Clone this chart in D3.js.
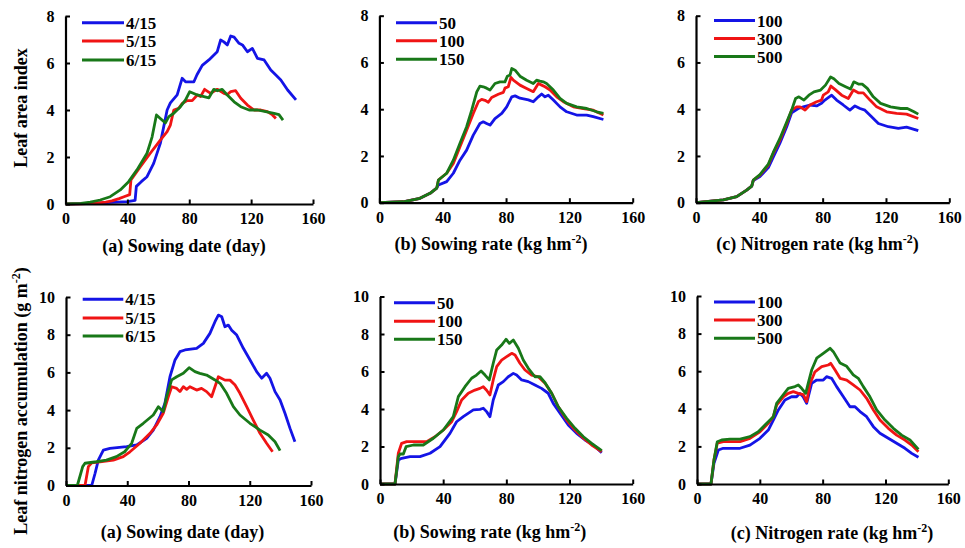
<!DOCTYPE html>
<html>
<head>
<meta charset="utf-8">
<script src="https://cdn.jsdelivr.net/npm/d3@7"></script>
<style>
  html, body { margin: 0; padding: 0; background: #fff; }
  svg { display: block; }
  .tick text { font-family: "Liberation Serif", "Times New Roman", serif; font-weight: bold; font-size: 16px; fill: #000; }
  .tick line { stroke: #000; stroke-width: 2; }
  .domain { stroke: #000; stroke-width: 2.2; }
  .lbl { font-family: "Liberation Serif", "Times New Roman", serif; font-weight: bold; font-size: 18px; fill: #000; }
  .leg { font-family: "Liberation Serif", "Times New Roman", serif; font-weight: bold; font-size: 17px; fill: #000; }
</style>
</head>
<body>
<svg id="chart" width="965" height="548"></svg>
<script>
// ---- Leaf area index, sowing date (day, LAI) ----
const dateLaiApr = [[0,0],[10,0.02],[20,0.04],[30,0.07],[40,0.1],[45,0.15],[45.8,0.75],[49,0.95],[52.7,1.16],[57,1.73],[61.3,2.58],[65.7,4.0],[67.8,4.3],[72.2,4.64],[75.4,5.35],[77.6,5.2],[83,5.2],[85,5.5],[88.4,5.9],[92.7,6.13],[98.1,6.48],[100.3,6.98],[102.4,6.9],[104.6,6.77],[106.8,7.15],[109,7.1],[112.2,6.84],[114.4,6.77],[117.6,6.48],[120.8,6.62],[124.1,6.2],[128.4,6.13],[132.7,5.7],[136,5.49],[139.2,5.28],[143.6,4.85],[149,4.43]];
const dateLaiMay = [[0,0],[10,0.01],[20,0.04],[26,0.08],[30,0.13],[34.6,0.23],[37.8,0.31],[41.5,0.4],[42.3,1.02],[48.4,1.59],[54.8,2.16],[61.3,2.72],[65.7,3.08],[67.8,3.36],[70,4.0],[73.2,4.07],[75.4,4.28],[78.7,4.4],[81.9,4.4],[85.2,4.64],[87.3,4.57],[89.9,4.88],[93.8,4.71],[98.1,4.88],[102.4,4.71],[104.6,4.66],[106.8,4.78],[110,4.82],[113.3,4.5],[117.6,4.21],[121.9,4.0],[126.2,4.0],[130.5,3.93],[133.8,3.79],[136,3.64]];
const dateLaiJun = [[0,0],[10,0.03],[16,0.08],[22.4,0.17],[28.9,0.31],[35.4,0.6],[40.8,0.95],[46.2,1.45],[52.7,2.16],[56,2.86],[58.8,3.79],[61.3,3.64],[64.6,3.45],[66.8,3.72],[70,3.86],[74.3,4.14],[77.6,4.43],[80.3,4.78],[85.2,4.64],[89.5,4.57],[92.7,4.52],[95.9,4.88],[98.1,4.82],[101.3,4.88],[104.6,4.64],[109,4.35],[113.3,4.14],[118.7,4.0],[124.1,4.0],[129.4,3.93],[134.8,3.86],[138,3.8],[140.6,3.57]];

// ---- Leaf area index, sowing rate ----
const rateLai50 = [[0,0],[15,0.04],[25.6,0.19],[32,0.4],[36.2,0.62],[37.3,0.76],[42.5,0.9],[46.7,1.26],[50.9,1.82],[55.1,2.25],[59.3,2.89],[63.5,3.39],[65.6,3.46],[67.7,3.39],[69.9,3.32],[73,3.6],[77.3,3.82],[80.4,4.1],[83.6,4.53],[85.7,4.57],[88.8,4.47],[94.1,4.4],[97.2,4.32],[100.4,4.53],[102.5,4.65],[104.6,4.53],[106.7,4.6],[109.9,4.39],[114.1,4.1],[118.3,3.89],[124.6,3.75],[130.9,3.75],[135.1,3.68],[141.5,3.56]];
const rateLai100 = [[0,0],[15,0.04],[25.6,0.19],[32,0.4],[36.2,0.62],[37.3,0.97],[42.5,1.26],[46.7,1.68],[50.9,2.39],[55.1,3.1],[59.3,3.82],[62.5,4.32],[64.6,4.42],[66.7,4.38],[68.8,4.3],[70.9,4.5],[75.1,4.64],[78.3,4.72],[79.3,4.9],[81.4,4.96],[83.1,5.36],[84.6,5.24],[88.8,5.03],[93,4.89],[97.2,4.75],[100.4,5.1],[102.5,5.03],[104.6,4.96],[107.8,4.82],[112,4.53],[116.2,4.32],[122.5,4.1],[128.8,4.03],[135.1,3.96],[141.5,3.75]];
const rateLai150 = [[0,0],[15,0.04],[25.6,0.19],[32,0.4],[36.2,0.62],[37.3,0.97],[42.5,1.26],[46.7,1.82],[50.9,2.54],[55.1,3.25],[58.3,3.96],[61.5,4.74],[63.5,4.99],[65.6,4.96],[67.7,4.9],[69.9,4.82],[73,5.1],[76.2,5.17],[79.3,5.17],[80.8,5.41],[82.5,5.46],[83.6,5.74],[85.7,5.67],[88.8,5.41],[93,5.24],[97.2,5.1],[99.3,5.24],[101.4,5.2],[103.5,5.17],[105.6,5.1],[109.9,4.82],[114.1,4.46],[118.3,4.25],[124.6,4.1],[130.9,4.03],[137.2,3.89],[141.5,3.82]];

// ---- Leaf area index, nitrogen rate ----
const nitLai100 = [[0,0],[17.3,0.12],[25.7,0.26],[32,0.54],[35.2,0.71],[36.2,0.95],[40.4,1.12],[45.7,1.5],[48.8,1.95],[53,2.55],[57.3,3.25],[60.4,3.85],[64.6,4.03],[67.8,4.1],[72,4.18],[76.2,4.14],[79.3,4.25],[81.4,4.39],[85.7,4.6],[88.8,4.39],[93,4.18],[97.2,3.96],[100.4,4.14],[103.6,4.03],[106.7,3.96],[110.9,3.68],[115.2,3.39],[121.5,3.25],[127.8,3.18],[133,3.23],[137.2,3.15],[140.4,3.08]];
const nitLai300 = [[0,0],[17.3,0.12],[25.7,0.26],[32,0.54],[35.2,0.71],[36.2,0.97],[40.4,1.18],[45.7,1.61],[48.8,2.11],[53,2.68],[57.3,3.39],[60.4,3.96],[63.6,4.1],[65.7,4.1],[68.9,3.96],[72,4.18],[76.2,4.32],[79.3,4.39],[80.4,4.6],[83.5,4.74],[85.2,4.99],[87.8,4.85],[92,4.6],[96.2,4.46],[99.4,4.82],[102.5,4.7],[105.7,4.7],[109.9,4.39],[114.1,4.1],[120.4,3.89],[126.7,3.82],[133,3.79],[140.4,3.6]];
const nitLai500 = [[0,0],[17.3,0.12],[25.7,0.26],[32,0.54],[35.2,0.71],[36.2,0.97],[40.4,1.2],[45.7,1.65],[48.8,2.15],[53,2.75],[57.3,3.45],[60.4,3.96],[62.9,4.46],[65,4.53],[68.2,4.39],[71.3,4.6],[74.5,4.74],[78.7,4.82],[81.8,5.03],[85,5.38],[87.1,5.3],[90.3,5.1],[94.5,4.96],[97.6,4.86],[99.7,5.17],[102.9,5.07],[105,5.07],[108.2,4.89],[112,4.53],[116.6,4.25],[122.9,4.1],[129.3,4.03],[133.5,4.03],[137.7,3.89],[140.4,3.79]];

// ---- Leaf nitrogen accumulation, sowing date (day, g m-2) ----
const dateLnaApr = [[0,0],[16.8,0],[19,0.65],[21.1,1.35],[24.4,1.88],[28.7,1.97],[39.6,2.06],[46.2,2.15],[52.7,2.5],[57,2.94],[61.4,3.65],[64.6,4.36],[67.9,5.77],[71.2,6.66],[74.4,7.1],[77.7,7.19],[85.3,7.28],[89.7,7.54],[94,8.07],[97.3,8.69],[99.5,9.04],[101.7,8.95],[103.8,8.42],[106,8.51],[108.2,8.24],[111.5,7.98],[115.8,7.28],[120.2,6.66],[124.5,6.04],[127.8,5.69],[131,5.95],[133.2,5.69],[136.5,4.98],[139.8,4.54],[143,3.83],[146.3,3.03],[149.5,2.32]];
const dateLnaMay = [[0,0],[12.4,0],[14.6,1.0],[16.8,1.2],[22.2,1.26],[30.9,1.35],[37.4,1.53],[41.8,1.79],[48.3,2.24],[54.9,2.77],[59.2,3.21],[63.5,3.83],[66.8,4.71],[69,5.24],[72.3,5.15],[74.4,4.98],[76.6,5.24],[78.8,5.1],[80.9,5.24],[85.3,5.06],[88.5,5.15],[91.8,4.98],[95.1,4.71],[97.3,5.24],[99.5,5.77],[101.7,5.68],[103.8,5.59],[107.1,5.59],[110.4,5.33],[113.6,4.89],[118,4.18],[122.3,3.47],[126.7,2.77],[131,2.24],[134.9,1.79]];
const dateLnaJun = [[0,0],[7.4,0],[10.9,1.0],[12.4,1.18],[19.9,1.26],[26.4,1.35],[32.9,1.53],[38.3,1.79],[42.9,2.24],[46.2,3.03],[50.5,3.3],[57,3.74],[60.3,4.18],[63.5,3.92],[65.7,4.71],[69,5.6],[72.3,5.77],[76.6,5.95],[80.4,6.25],[84.2,6.04],[87.4,5.95],[91.8,5.86],[97.3,5.6],[100.6,5.42],[104.9,4.89],[109.3,4.18],[113.6,3.74],[120.1,3.3],[126.7,2.94],[132.1,2.68],[136.5,2.32],[139.8,1.85]];

// ---- Leaf nitrogen accumulation, sowing rate ----
const rateLna50 = [[0,0],[9.5,0],[11.6,1.28],[13.7,1.37],[19,1.46],[25.3,1.46],[31.7,1.64],[38,1.99],[44.3,2.7],[48.5,3.32],[52.7,3.59],[59.1,3.95],[63.3,3.98],[65.4,4.04],[67.5,3.86],[69.6,3.59],[71.7,4.48],[74.9,5.28],[78.1,5.46],[81.2,5.72],[84.4,5.9],[86.5,5.81],[89.7,5.55],[93.9,5.46],[98.1,5.28],[102.3,5.1],[106.5,4.84],[109.7,4.3],[114,3.77],[119.2,3.15],[124.5,2.7],[129.8,2.35],[135.1,2.08],[140.4,1.67]];
const rateLna100 = [[0,0],[9.5,0],[11.6,1.64],[13.7,2.17],[16.9,2.26],[23.2,2.26],[29.5,2.26],[34.8,2.52],[40.1,2.88],[45.4,3.32],[48.5,3.86],[51.7,4.48],[55.9,4.84],[60.1,5.01],[63.3,5.1],[65.4,5.19],[67.5,5.0],[69.6,4.75],[71.7,5.55],[73.9,6.26],[77,6.61],[80.2,6.79],[83.4,6.97],[85.5,6.88],[88.6,6.44],[91.8,6.08],[96,5.81],[100.2,5.72],[104.5,5.37],[108.7,4.84],[112.9,4.12],[118.2,3.41],[123.5,2.88],[128.8,2.44],[134,2.08],[137.2,1.9],[140.4,1.72]];
const rateLna150 = [[0,0],[9.5,0],[11.6,1.46],[12.7,1.6],[14.8,1.6],[16.5,1.99],[21.2,2.08],[27.4,2.08],[33.8,2.44],[40.1,2.88],[46.4,3.59],[49.6,4.66],[53.8,5.19],[58,5.64],[61.1,5.81],[64,6.03],[66.5,5.81],[69.2,5.55],[71.7,6.44],[73.9,7.15],[77,7.41],[79.8,7.72],[81.9,7.5],[84.4,7.68],[87.6,7.24],[90.7,6.61],[93.9,6.17],[98.1,5.72],[101.3,5.72],[104.5,5.4],[108.7,4.84],[112.9,4.12],[118.2,3.5],[123.5,2.97],[128.8,2.52],[134,2.17],[140.4,1.78]];

// ---- Leaf nitrogen accumulation, nitrogen rate ----
const nitLna100 = [[0,0],[8.9,0],[10.8,1.1],[13.6,1.81],[16.7,1.9],[27.4,1.9],[33.7,2.07],[40.1,2.43],[45.4,2.87],[48.6,3.4],[51.8,3.94],[56,4.47],[60.2,4.64],[63.4,4.64],[65.5,4.82],[67.6,4.64],[69.8,4.29],[73,5.35],[76.2,5.53],[80.4,5.53],[82.5,5.71],[85.7,5.62],[88.9,5.18],[93.2,4.64],[97.4,4.11],[100.6,4.11],[103.8,3.85],[108,3.58],[112.3,3.05],[116.5,2.7],[121.8,2.43],[127.1,2.17],[132.4,1.9],[136.7,1.63],[141,1.42]];
const nitLna300 = [[0,0],[8.9,0],[10.8,1.28],[12.9,2.17],[16.7,2.25],[27.4,2.25],[33.7,2.43],[40.1,2.78],[45.4,3.23],[48.6,3.58],[50.7,4.2],[55,4.64],[58.1,4.82],[61.3,4.91],[64.5,4.82],[67.7,4.75],[69.8,4.38],[72,5.35],[75.1,5.97],[79.4,6.24],[83.6,6.33],[85.1,6.42],[87.9,6.06],[91.1,5.62],[95.3,5.53],[99.5,5.27],[103.8,5.0],[108,4.56],[112.3,3.94],[116.5,3.4],[121.8,2.96],[127.1,2.6],[132.4,2.34],[136.7,2.07],[141,1.72]];
const nitLna500 = [[0,0],[8.9,0],[10.8,1.28],[12.9,2.25],[15.7,2.34],[21,2.39],[27.4,2.39],[33.7,2.52],[39,2.78],[44.4,3.23],[48.6,3.58],[50.7,4.29],[53.9,4.64],[58.1,5.09],[62.4,5.18],[64.5,5.27],[66.6,5.09],[69.2,4.82],[70.8,5.35],[73,6.06],[76.2,6.69],[80.4,6.95],[84.7,7.22],[86.8,7.04],[91.1,6.44],[95.3,6.26],[99.5,5.8],[102.7,5.62],[105.9,5.18],[110.1,4.64],[114.4,3.94],[119.7,3.4],[125,2.96],[130.3,2.6],[135.6,2.34],[141,1.84]];

// ---- Tick values and legend labels ----
const xTicks = [0, 40, 80, 120, 160];
const laiTicks = [0, 2, 4, 6, 8];
const lnaTicks = [0, 2, 4, 6, 8, 10];
const dateNames = ["4/15", "5/15", "6/15"];
const rateNames = ["50", "100", "150"];
const nitNames = ["100", "300", "500"];
const seriesColors = ["#1414e6", "#f01414", "#187818"];

const svg = d3.select("#chart");

// Panel frames: pixel positions of the axis ranges
const panels = [
  { x: [65.5, 313], y: [204, 16], ymax: 8, ticks: laiTicks, series: [dateLaiApr, dateLaiMay, dateLaiJun], names: dateNames,
    leg: { x1: 82, x2: 124, ys: [22.7, 41, 60] }, title: ["(a) Sowing date (day)", null], tx: 184, ty: 251.5 },
  { x: [379.4, 632.7], y: [202.7, 15.7], ymax: 8, ticks: laiTicks, series: [rateLai50, rateLai100, rateLai150], names: rateNames,
    leg: { x1: 396, x2: 437, ys: [22.7, 40.7, 59.3] }, title: ["(b) Sowing rate (kg hm", ")"], tx: 491, ty: 250 },
  { x: [696, 949.3], y: [202.7, 15.7], ymax: 8, ticks: laiTicks, series: [nitLai100, nitLai300, nitLai500], names: nitNames,
    leg: { x1: 714, x2: 755, ys: [20.5, 38.5, 56.5] }, title: ["(c) Nitrogen rate (kg hm", ")"], tx: 817.5, ty: 250 },
  { x: [66, 311], y: [485.5, 297], ymax: 10, ticks: lnaTicks, series: [dateLnaApr, dateLnaMay, dateLnaJun], names: dateNames,
    leg: { x1: 82.7, x2: 123.3, ys: [299.3, 318, 336] }, title: ["(a) Sowing date (day)", null], tx: 182.5, ty: 538 },
  { x: [380, 632.7], y: [484, 296.5], ymax: 10, ticks: lnaTicks, series: [rateLna50, rateLna100, rateLna150], names: rateNames,
    leg: { x1: 394, x2: 435, ys: [302.7, 321.3, 339.3] }, title: ["(b) Sowing rate (kg hm", ")"], tx: 489.7, ty: 538 },
  { x: [697, 948.3], y: [484, 296], ymax: 10, ticks: lnaTicks, series: [nitLna100, nitLna300, nitLna500], names: nitNames,
    leg: { x1: 714, x2: 755, ys: [302, 320, 338.3] }, title: ["(c) Nitrogen rate (kg hm", ")"], tx: 832, ty: 539 }
];

panels.forEach(p => {
  const xs = d3.scaleLinear().domain([0, 160]).range(p.x);
  const ys = d3.scaleLinear().domain([0, p.ymax]).range(p.y);
  const g = svg.append("g");

  // series lines
  const line = d3.line().x(d => xs(d[0])).y(d => ys(d[1]));
  p.series.forEach((s, i) => {
    g.append("path").datum(s)
      .attr("d", line)
      .attr("fill", "none")
      .attr("stroke", seriesColors[i])
      .attr("stroke-width", 2.8)
      .attr("stroke-linejoin", "round");
  });

  // axes with inward ticks
  g.append("g").attr("transform", `translate(0,${p.y[0]})`)
    .call(d3.axisBottom(xs).tickValues(xTicks).tickSizeInner(-4.5).tickSizeOuter(0).tickPadding(9).tickFormat(d3.format("d")));
  g.append("g").attr("transform", `translate(${p.x[0]},0)`)
    .call(d3.axisLeft(ys).tickValues(p.ticks).tickSizeInner(-4.5).tickSizeOuter(0).tickPadding(11).tickFormat(d3.format("d")));

  // legend
  p.names.forEach((n, i) => {
    const y = p.leg.ys[i];
    g.append("line").attr("x1", p.leg.x1).attr("x2", p.leg.x2).attr("y1", y).attr("y2", y)
      .attr("stroke", seriesColors[i]).attr("stroke-width", 3);
    g.append("text").attr("class", "leg").attr("x", p.leg.x2 + 2).attr("y", y + 6).text(n);
  });

  // x-axis title
  const t = g.append("text").attr("class", "lbl").attr("x", p.tx).attr("y", p.ty).attr("text-anchor", "middle");
  t.append("tspan").text(p.title[0]);
  if (p.title[1]) {
    t.append("tspan").attr("dy", -7).style("font-size", "12px").text("-2");
    t.append("tspan").attr("dy", 7).text(p.title[1]);
  }
});

// y-axis titles
svg.append("text").attr("class", "lbl").attr("transform", "translate(27,108) rotate(-90)")
  .attr("text-anchor", "middle").text("Leaf area index");
const ny = svg.append("text").attr("class", "lbl").attr("transform", "translate(27,401) rotate(-90)")
  .attr("text-anchor", "middle");
ny.append("tspan").text("Leaf nitrogen accumulation (g m");
ny.append("tspan").attr("dy", -7).style("font-size", "12px").text("-2");
ny.append("tspan").attr("dy", 7).text(")");
</script>
</body>
</html>
